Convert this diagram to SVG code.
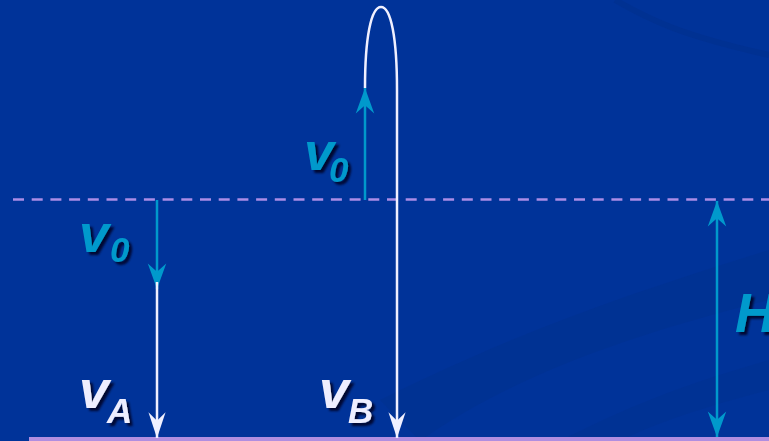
<svg xmlns="http://www.w3.org/2000/svg" width="769" height="441" viewBox="0 0 769 441">
<defs>
<style>
.lbl{font-family:"Liberation Sans",Arial,sans-serif;font-weight:bold;font-style:italic;filter:url(#sh)}
.big{font-size:54px}
.sub{font-size:35px}
.teal{fill:#0099cc}
.wht{fill:#eeeeff}
.tl{stroke:#0099cc;stroke-width:2.5;fill:none}
.wl{stroke:#f0f0ff;stroke-width:2.5;fill:none}
</style>
<filter id="sh" x="-20%" y="-20%" width="150%" height="150%">
<feGaussianBlur in="SourceAlpha" stdDeviation="1.2"/>
<feOffset dx="2.5" dy="2.5" result="o"/>
<feFlood flood-color="#000022" flood-opacity="0.85"/>
<feComposite in2="o" operator="in"/>
<feMerge><feMergeNode/><feMergeNode in="SourceGraphic"/></feMerge>
</filter>
<marker id="at" markerUnits="userSpaceOnUse" markerWidth="30" markerHeight="30" viewBox="-24 -10 26 20" refX="0" refY="0" orient="auto">
<path d="M0,0 L-22,-8 L-15,0 L-22,8 Z" fill="#0099cc"/>
</marker>
<marker id="ats" markerUnits="userSpaceOnUse" markerWidth="30" markerHeight="30" viewBox="-24 -10 26 20" refX="0" refY="0" orient="auto-start-reverse">
<path d="M0,0 L-22,-8 L-15,0 L-22,8 Z" fill="#0099cc"/>
</marker>
<marker id="aw" markerUnits="userSpaceOnUse" markerWidth="30" markerHeight="30" viewBox="-26 -10 28 20" refX="0" refY="0" orient="auto">
<path d="M0,0 L-24,-8 L-16,0 L-24,8 Z" fill="#f0f0ff"/>
</marker>
</defs>
<rect width="769" height="441" fill="#003399"/>
<g id="bg-bands" fill="none">
<path d="M615,0 C650,20 680,35 769,55" stroke="#00308f" stroke-width="6" opacity="0.7"/>
<path d="M380,400 C520,330 640,290 769,250 L769,300 C650,330 520,370 420,441 Z" fill="#003290" stroke="none" opacity="0.6"/>
<path d="M560,441 C640,400 700,380 769,360 L769,390 C710,405 650,425 620,441 Z" fill="#003290" stroke="none" opacity="0.5"/>
</g>
<g id="ground">
<line x1="13" y1="199.5" x2="769" y2="199.5" stroke="#ab8de6" stroke-width="2.6" stroke-dasharray="11 7.7"/>
<rect x="29" y="437" width="740" height="4" fill="#b08ee0"/>
</g>
<g id="connectors">
<line class="tl" x1="157" y1="200" x2="157" y2="289" marker-end="url(#at)"/>
<line class="wl" x1="157" y1="282" x2="157" y2="438" marker-end="url(#aw)"/>
<line class="tl" x1="365" y1="200" x2="365" y2="88" marker-end="url(#at)"/>
<path class="wl" d="M365,88 C365,38 371,7 381,7 C391,7 397,38 397,90 L397,438" marker-end="url(#aw)"/>
<line class="tl" x1="717" y1="201" x2="717" y2="437" marker-start="url(#ats)" marker-end="url(#at)"/>
</g>
<g id="label-v0-up">
<text class="lbl big teal" x="304" y="170">v</text>
<text class="lbl sub teal" x="329" y="182">0</text>
</g>
<g id="label-v0-down">
<text class="lbl big teal" x="79" y="252">v</text>
<text class="lbl sub teal" x="110" y="262">0</text>
</g>
<g id="label-vA">
<text class="lbl big wht" x="79" y="408">v</text>
<text class="lbl sub wht" x="107" y="423">A</text>
</g>
<g id="label-vB">
<text class="lbl big wht" x="319" y="408">v</text>
<text class="lbl sub wht" x="348" y="423">B</text>
</g>
<g id="label-H">
<text class="lbl teal" x="735" y="332" style="font-size:56px">H</text>
</g>
</svg>
